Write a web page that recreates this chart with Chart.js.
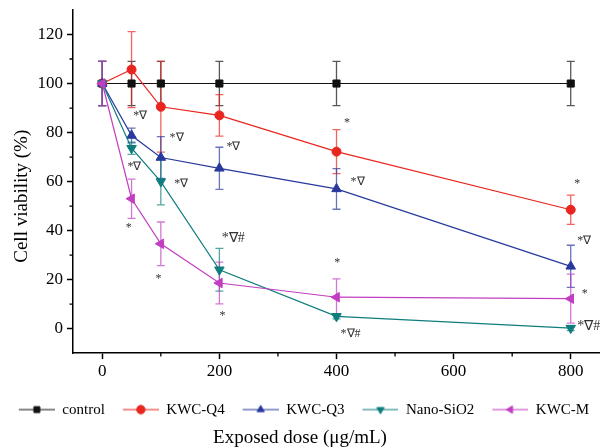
<!DOCTYPE html>
<html>
<head>
<meta charset="utf-8">
<script src="https://cdn.jsdelivr.net/npm/chart.js@4.4.1/dist/chart.umd.min.js"></script>
<style>
  html, body { margin: 0; padding: 0; background: #fff; overflow: hidden; }
  #wrap { width: 600px; height: 448px; }
</style>
</head>
<body>
<div id="wrap"><canvas id="viability" width="600" height="448"></canvas></div>
<script>
// doses (ug/mL) and mean viability / SD per material
const doses = [0, 50, 100, 200, 400, 800];

const controlMean = [100, 100, 100, 100, 100, 100];
const controlSd = [9, 9, 9, 9, 9, 9];
const q4Mean = [100, 105.7, 90.5, 87, 72.2, 48.5];
const q4Sd = [9, 15.5, 18.5, 8.5, 9, 6];
const q3Mean = [100, 78.8, 69.8, 65.4, 57, 25.4];
const q3Sd = [9, 3, 8.5, 8.6, 8.3, 8.6];
const sio2Mean = [100, 73.6, 60, 24, 5, 0.2];
const sio2Sd = [9, 2.5, 9.5, 8.7, 1, 1];
const kwcmMean = [100, 53, 34.6, 18.6, 12.8, 12.2];
const kwcmSd = [9, 8, 8.9, 8.5, 7.5, 10];

const xTicks = [0, 200, 400, 600, 800];
const xMinorTicks = [100, 300, 500, 700];
const yTicks = [0, 20, 40, 60, 80, 100, 120];
const yMinorTicks = [10, 30, 50, 70, 90, 110];

const yTitle = 'Cell viability (%)';
const xTitle = 'Exposed dose (μg/mL)';

// significance marks (* vs control, ∇ vs KWC-Q4, # vs KWC-M)
const markText = ['*∇', '*∇', '*∇', '*∇', '*∇', '*', '*', '*∇#', '*', '*', '*∇#', '*', '*∇', '*', '*∇', '*', '*∇#'];
const markX = [53, 115, 212, 43, 123, 40, 91, 204, 200, 396, 407, 413, 424, 806, 811, 819, 811];
const markY = [87, 78, 74, 66, 59, 41, 20.5, 37, 5, 27, -2, 84, 60, 59, 36, 14, 1];
const largeMarks = [7, 16];

const FONT = '"Liberation Serif", "Times New Roman", serif';

function pointsOf(means) {
    return doses.map((d, i) => ({ x: d, y: means[i] }));
}

function makeSeries(label, means, sd, color, style, rotation, radius, order) {
    return {
        label: label,
        data: pointsOf(means),
        errors: sd,
        borderColor: color,
        backgroundColor: color,
        pointBackgroundColor: color,
        pointBorderColor: color,
        pointStyle: style,
        rotation: rotation,
        pointRadius: radius,
        pointHoverRadius: radius,
        pointBorderWidth: 1,
        borderWidth: 1.2,
        tension: 0,
        order: order
    };
}

const datasets = [
    makeSeries('control', controlMean, controlSd, '#111111', 'rect', 0, 5, 4),
    makeSeries('KWC-Q4', q4Mean, q4Sd, '#e8251e', 'circle', 0, 4.5, 3),
    makeSeries('KWC-Q3', q3Mean, q3Sd, '#28399e', 'triangle', 0, 5.5, 2),
    makeSeries('Nano-SiO2', sio2Mean, sio2Sd, '#0f7d7d', 'triangle', 180, 5.5, 1),
    makeSeries('KWC-M', kwcmMean, kwcmSd, '#c23dc2', 'triangle', -90, 5.5, 0)
];

function withAlpha(hex, a) {
    const n = parseInt(hex.slice(1), 16);
    return `rgba(${(n >> 16) & 255}, ${(n >> 8) & 255}, ${n & 255}, ${a})`;
}

// line + marker swatch for the legend (left strip left blank as spacing)
function legendIcon(ds) {
    const c = document.createElement('canvas');
    c.width = 44;
    c.height = 14;
    const ctx = c.getContext('2d');
    ctx.strokeStyle = ds.borderColor;
    ctx.lineWidth = 1.2;
    ctx.beginPath();
    ctx.moveTo(8, 7);
    ctx.lineTo(44, 7);
    ctx.stroke();
    ctx.fillStyle = ds.backgroundColor;
    ctx.lineWidth = 1;
    Chart.helpers.drawPoint(ctx, { pointStyle: ds.pointStyle, rotation: ds.rotation, radius: 4.2, borderWidth: 1 }, 26, 7);
    return c;
}

const errorBars = {
    id: 'errorBars',
    beforeDatasetsDraw(chart) {
        const { ctx, scales: { x, y } } = chart;
        ctx.save();
        ctx.lineWidth = 1.3;
        chart.data.datasets.forEach((ds) => {
            ctx.strokeStyle = withAlpha(ds.borderColor, 0.7);
            ds.data.forEach((p, i) => {
                const sd = ds.errors[i];
                const px = x.getPixelForValue(p.x);
                const top = y.getPixelForValue(p.y + sd);
                const bottom = y.getPixelForValue(p.y - sd);
                ctx.beginPath();
                ctx.moveTo(px, top);
                ctx.lineTo(px, bottom);
                ctx.moveTo(px - 4, top);
                ctx.lineTo(px + 4, top);
                ctx.moveTo(px - 4, bottom);
                ctx.lineTo(px + 4, bottom);
                ctx.stroke();
            });
        });
        ctx.restore();
    }
};

const minorTicks = {
    id: 'minorTicks',
    afterDraw(chart) {
        const { ctx, scales: { x, y } } = chart;
        ctx.save();
        ctx.strokeStyle = '#000';
        ctx.lineWidth = 1.3;
        ctx.beginPath();
        xMinorTicks.forEach((v) => {
            const px = x.getPixelForValue(v);
            ctx.moveTo(px, x.top);
            ctx.lineTo(px, x.top + 3.5);
        });
        yMinorTicks.forEach((v) => {
            const py = y.getPixelForValue(v);
            ctx.moveTo(y.right, py);
            ctx.lineTo(y.right - 3.5, py);
        });
        ctx.stroke();
        ctx.restore();
    }
};

// rotated y title, centred a little below the axis midpoint
const yAxisTitle = {
    id: 'yAxisTitle',
    afterDraw(chart) {
        const { ctx, scales: { y } } = chart;
        ctx.save();
        ctx.translate(22, y.getPixelForValue(54));
        ctx.rotate(-Math.PI / 2);
        ctx.fillStyle = '#000';
        ctx.font = `19px ${FONT}`;
        ctx.textAlign = 'center';
        ctx.textBaseline = 'middle';
        ctx.fillText(yTitle, 0, 0);
        ctx.restore();
    }
};

const significance = {
    id: 'significance',
    afterDatasetsDraw(chart) {
        const { ctx, scales: { x, y } } = chart;
        ctx.save();
        ctx.fillStyle = '#333';
        ctx.textAlign = 'left';
        ctx.textBaseline = 'middle';
        markText.forEach((t, i) => {
            const size = largeMarks.includes(i) ? 14 : 12;
            ctx.font = `${size}px ${FONT}`;
            ctx.fillText(t, x.getPixelForValue(markX[i]), y.getPixelForValue(markY[i]));
        });
        ctx.restore();
    }
};

new Chart(document.getElementById('viability'), {
    type: 'line',
    data: { datasets: datasets },
    plugins: [errorBars, minorTicks, yAxisTitle, significance],
    options: {
        responsive: false,
        animation: false,
        devicePixelRatio: 1,
        layout: { autoPadding: false, padding: { top: 10, right: 0, bottom: 0, left: 0 } },
        scales: {
            x: {
                type: 'linear',
                min: -50,
                max: 850,
                afterBuildTicks: (scale) => { scale.ticks = xTicks.map(v => ({ value: v })); },
                afterFit: (scale) => {
                    scale.height = 39;
                    scale.paddingLeft = 0;
                    scale.paddingRight = 0;
                },
                border: { color: '#000', width: 1.5 },
                grid: { drawOnChartArea: false, tickLength: 6, tickColor: '#000', tickWidth: 1.5 },
                ticks: { color: '#000', padding: 2, font: { family: FONT, size: 17 } }
            },
            y: {
                min: -10,
                max: 130,
                afterBuildTicks: (scale) => { scale.ticks = yTicks.map(v => ({ value: v })); },
                afterFit: (scale) => {
                    scale.width = 73;
                    scale.paddingTop = 0;
                    scale.paddingBottom = 0;
                },
                border: { color: '#000', width: 1.5 },
                grid: { drawOnChartArea: false, tickLength: 6, tickColor: '#000', tickWidth: 1.5 },
                ticks: { color: '#000', padding: 4, font: { family: FONT, size: 17 } }
            }
        },
        plugins: {
            legend: {
                position: 'bottom',
                labels: {
                    usePointStyle: true,
                    pointStyleWidth: 44,
                    boxHeight: 15,
                    padding: 10,
                    color: '#000',
                    font: { family: FONT, size: 15 },
                    generateLabels: (chart) => chart.data.datasets.map((ds, i) => ({
                        text: ds.label,
                        pointStyle: legendIcon(ds),
                        fillStyle: ds.backgroundColor,
                        strokeStyle: ds.borderColor,
                        lineWidth: 0,
                        hidden: false,
                        datasetIndex: i,
                        fontColor: '#000'
                    }))
                }
            },
            title: {
                display: true,
                position: 'bottom',
                text: xTitle,
                color: '#000',
                padding: 0,
                font: { family: FONT, size: 19, weight: 'normal', lineHeight: 1.1 }
            },
            tooltip: { enabled: false }
        }
    }
});
</script>
</body>
</html>
